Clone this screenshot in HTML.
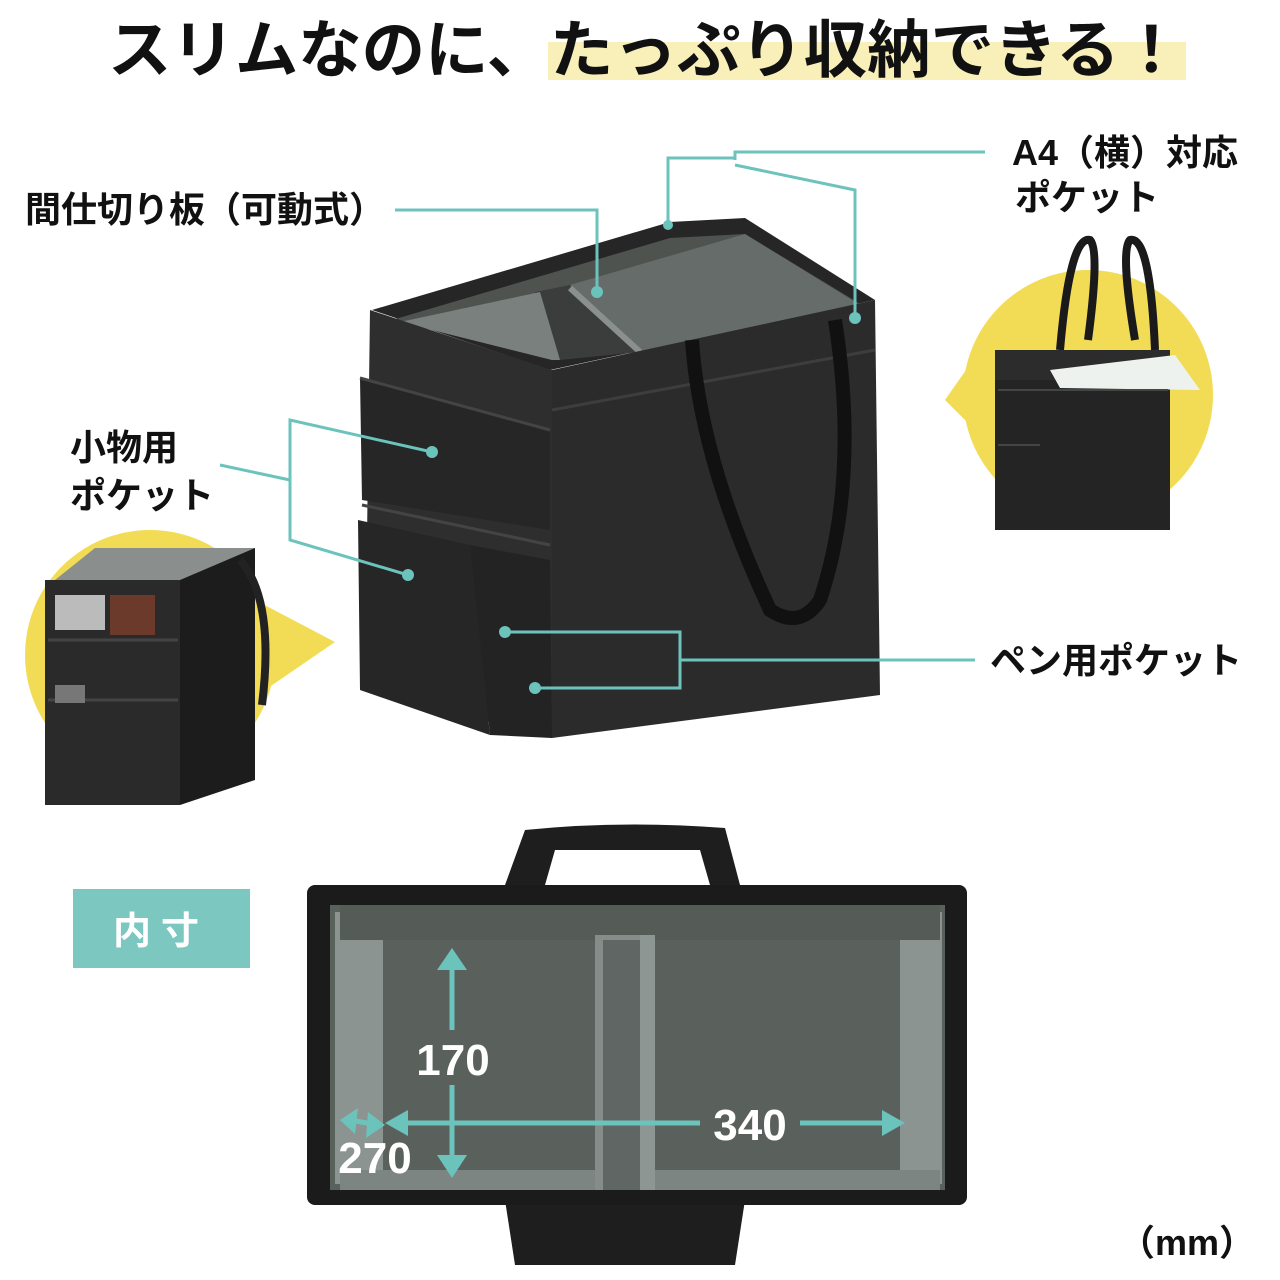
<!DOCTYPE html><html><head><meta charset="utf-8"><style>
html,body{margin:0;padding:0;background:#fff}
svg{display:block}
text{font-family:"Liberation Sans","Noto Sans CJK JP",sans-serif;font-weight:bold}
</style></head><body>
<svg width="1280" height="1280" viewBox="0 0 1280 1280" xmlns="http://www.w3.org/2000/svg">
<rect width="1280" height="1280" fill="#fff"/>
<rect x="548" y="42" width="638" height="38" fill="#f8f0b8"/>
<text x="108" y="72" font-size="63" fill="#111" font-family="Noto Sans CJK JP" textLength="1075" lengthAdjust="spacingAndGlyphs">スリムなのに、たっぷり収納できる！</text>

<!-- yellow circles -->
<circle cx="150" cy="655" r="125" fill="#f2dc55"/>
<polygon points="255,600 335,642 265,690" fill="#f2dc55"/>
<circle cx="1088" cy="395" r="125" fill="#f2dc55"/>
<polygon points="980,350 945,400 985,440" fill="#f2dc55"/>

<!-- left small bag -->
<polygon points="55,580 95,548 255,548 235,580" fill="#8a8e8c"/>
<rect x="45" y="580" width="135" height="225" fill="#2a2a2a"/>
<polygon points="180,580 255,548 255,780 180,805" fill="#1c1c1c"/>
<rect x="110" y="595" width="45" height="40" fill="#6b3a2a"/>
<rect x="55" y="595" width="50" height="35" fill="#bbb"/>
<line x1="48" y1="640" x2="178" y2="640" stroke="#444" stroke-width="3"/>
<line x1="48" y1="700" x2="178" y2="700" stroke="#444" stroke-width="3"/>
<rect x="55" y="685" width="30" height="18" fill="#777"/>
<path d="M240,560 Q275,600 262,705" stroke="#222" stroke-width="8" fill="none"/>

<!-- right small bag -->
<path d="M1060,350 Q1070,235 1090,240 Q1100,250 1088,340 M1155,350 Q1150,235 1130,240 Q1120,250 1135,340" stroke="#1a1a1a" stroke-width="8" fill="none"/>
<rect x="995" y="350" width="175" height="180" fill="#242424"/>
<rect x="995" y="350" width="175" height="30" fill="#2c2c2c"/>
<polygon points="1050,370 1175,355 1200,390 1060,388" fill="#eef2ee"/>
<line x1="998" y1="390" x2="1168" y2="390" stroke="#444" stroke-width="2"/>
<line x1="998" y1="445" x2="1040" y2="445" stroke="#444" stroke-width="2"/>

<!-- main bag -->
<polygon points="372,310 670,222 745,218 875,300 550,370" fill="#262626"/>
<polygon points="392,320 670,238 745,234 862,305 552,360" fill="#4e5350"/>
<polygon points="535,292 570,285 640,352 560,360" fill="#3a3d3b"/>
<polygon points="570,285 745,234 860,305 640,352" fill="#666c69"/>
<polygon points="400,322 540,292 560,360 552,360" fill="#7a807d"/>
<line x1="570" y1="288" x2="640" y2="352" stroke="#8a908d" stroke-width="6"/>
<polygon points="370,310 552,370 552,738 365,690" fill="#2e2e2e"/>
<polygon points="552,370 875,300 880,695 552,738" fill="#2b2b2b"/>
<polygon points="360,378 550,430 550,530 362,500" fill="#262626"/>
<polygon points="358,520 470,545 490,735 360,690" fill="#262626"/>
<polygon points="470,545 550,560 552,738 490,735" fill="#232323"/>
<line x1="360" y1="378" x2="550" y2="430" stroke="#444" stroke-width="3"/>
<line x1="362" y1="505" x2="550" y2="545" stroke="#444" stroke-width="3"/>
<line x1="552" y1="410" x2="875" y2="350" stroke="#3d3d3d" stroke-width="3"/>
<path d="M692,340 Q700,460 770,610 Q800,630 820,600 Q860,480 835,320" stroke="#111" stroke-width="14" fill="none"/>

<!-- teal connectors -->
<g stroke="#6cc3bc" stroke-width="3" fill="none">
<polyline points="395,210 597,210 597,290"/>
<polyline points="985,152 735,152 735,160"/>
<polyline points="668,225 668,158 735,158"/>
<polyline points="735,165 855,190 855,318"/>
<polyline points="220,465 290,480"/>
<polyline points="432,452 290,420 290,540 408,575"/>
<polyline points="505,632 680,632 680,688 535,688"/>
<polyline points="680,660 975,660"/>
</g>
<g fill="#6cc3bc">
<circle cx="597" cy="292" r="6"/><circle cx="855" cy="318" r="6"/><circle cx="668" cy="225" r="5"/>
<circle cx="432" cy="452" r="6"/><circle cx="408" cy="575" r="6"/>
<circle cx="505" cy="632" r="6"/><circle cx="535" cy="688" r="6"/>
</g>

<!-- labels -->
<text x="25" y="222" font-size="36" fill="#111">間仕切り板（可動式）</text>
<text x="1012" y="165" font-size="36" fill="#111">A4（横）対応</text>
<text x="1015" y="210" font-size="36" fill="#111">ポケット</text>
<text x="70" y="460" font-size="36" fill="#111">小物用</text>
<text x="70" y="508" font-size="36" fill="#111">ポケット</text>
<text x="990" y="673" font-size="36" fill="#111">ペン用ポケット</text>

<!-- 内寸 -->
<rect x="73" y="889" width="177" height="79" fill="#7cc7bf"/>
<text x="161" y="944" font-size="38" fill="#fff" text-anchor="middle" letter-spacing="10">内寸</text>

<!-- top view bag -->
<path d="M505,885 L525,830 Q620,820 725,828 L740,885 Z M545,885 L555,850 L700,850 L710,885 Z" fill="#1e1e1e" fill-rule="evenodd"/>
<path d="M505,1200 L515,1265 L735,1265 L745,1200 Z" fill="#1e1e1e"/>
<rect x="307" y="885" width="660" height="320" rx="8" fill="#1b1b1b"/>
<rect x="330" y="905" width="615" height="285" fill="#5a615d"/>
<rect x="335" y="912" width="48" height="272" fill="#8c9492"/>
<rect x="900" y="912" width="42" height="272" fill="#8c9492"/>
<rect x="340" y="1170" width="600" height="20" fill="#7d8583"/>
<rect x="340" y="905" width="600" height="35" fill="#555c58"/>
<rect x="595" y="935" width="60" height="255" fill="#858c8a"/>
<rect x="603" y="940" width="45" height="250" fill="#5f6663"/>
<rect x="640" y="935" width="15" height="255" fill="#8e9694"/>

<!-- dimension arrows -->
<g stroke="#6cc3bc" stroke-width="5" fill="none">
<line x1="452" y1="965" x2="452" y2="1030"/>
<line x1="452" y1="1085" x2="452" y2="1160"/>
<line x1="395" y1="1123" x2="700" y2="1123"/>
<line x1="800" y1="1123" x2="885" y2="1123"/>
<line x1="350" y1="1120" x2="378" y2="1125"/>
</g>
<g fill="#6cc3bc">
<polygon points="452,948 437,970 467,970"/>
<polygon points="452,1178 437,1155 467,1155"/>
<polygon points="385,1123 408,1110 408,1136"/>
<polygon points="905,1123 882,1110 882,1136"/>
<polygon points="340,1120 358,1108 355,1134"/>
<polygon points="385,1125 368,1112 366,1138"/>
</g>
<g fill="#fff" font-weight="normal">
<text x="453" y="1075" font-size="44" text-anchor="middle">170</text>
<text x="750" y="1140" font-size="44" text-anchor="middle">340</text>
<text x="375" y="1173" font-size="44" text-anchor="middle">270</text>
</g>
<text x="1255" y="1255" font-size="36" fill="#111" text-anchor="end">（mm）</text>
</svg>
</body></html>
